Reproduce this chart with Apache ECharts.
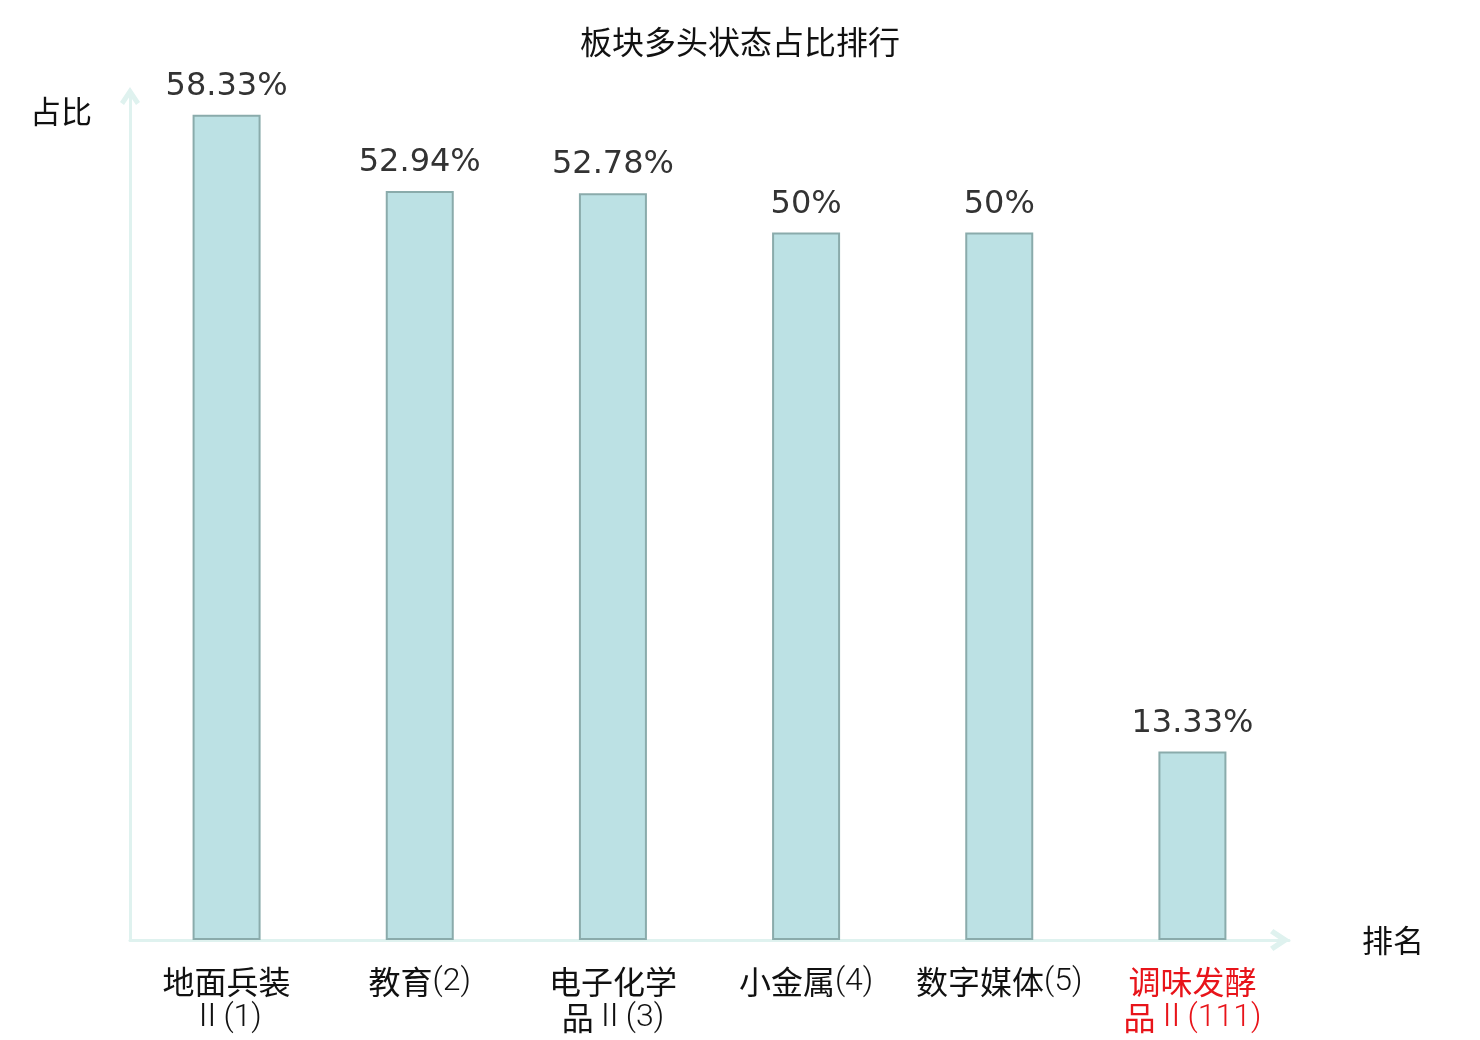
<!DOCTYPE html>
<html>
<head>
<meta charset="utf-8">
<script src="https://cdn.jsdelivr.net/npm/echarts@6/dist/echarts.min.js"></script>
<style>html,body{margin:0;padding:0;background:#fff}#c{width:1480px;height:1040px}</style>
</head>
<body>
<div id="c"></div>
<script>
const titleText = '板块多头状态占比排行';
const categories = ['地面兵装Ⅱ(1)', '教育(2)', '电子化学品Ⅱ(3)', '小金属(4)', '数字媒体(5)', '调味发酵品Ⅱ(111)'];
const values = [58.33, 52.94, 52.78, 50, 50, 13.33];
const valueLabels = ['58.33%', '52.94%', '52.78%', '50%', '50%', '13.33%'];
const highlightIndex = 5;

const chevron = 'path://M10 0L20 15L16 18L10 9L4 18L0 15Z';
const axisColor = '#dff2ef';
const cjk = '"Noto Sans CJK SC", sans-serif';
const latin = 'Roboto, "Noto Sans CJK SC", sans-serif';
const normalColor = '#111';
const redColor = '#e8141a';

function isCJK(ch) { return /[\u3400-\u9fff]/.test(ch); }
function richLabel(v, i) {
  const lines = v.length > 7 ? [v.slice(0, 4), v.slice(4)] : [v];
  const suffix = i === highlightIndex ? 'r' : '';
  return lines.map(function (line) {
    let out = '', run = '', kind = null;
    for (const ch of line) {
      const k = isCJK(ch) ? 'c' : 'l';
      if (k !== kind && run) { out += '{' + kind + suffix + '|' + run + '}'; run = ''; }
      kind = k; run += ch;
    }
    if (run) out += '{' + kind + suffix + '|' + run + '}';
    return out;
  }).join('\n');
}

const chart = echarts.init(document.getElementById('c'));
chart.setOption({
  backgroundColor: '#fff',
  animation: false,
  title: {
    text: titleText,
    left: 'center',
    top: 21,
    textStyle: { fontFamily: cjk, fontSize: 32, fontWeight: 'normal', color: '#111' }
  },
  grid: { left: 130, right: 191, top: 91, bottom: 100, containLabel: false },
  xAxis: {
    type: 'category',
    data: categories,
    name: '排名',
    nameLocation: 'end',
    nameGap: 73,
    nameTextStyle: { fontFamily: cjk, fontSize: 31, color: '#111' },
    axisLine: {
      show: true,
      symbol: ['none', chevron],
      symbolSize: [23, 20],
      symbolOffset: [0, -9],
      lineStyle: { color: axisColor, width: 3 }
    },
    axisTick: { show: false },
    axisLabel: {
      interval: 0,
      margin: 24,
      fontSize: 32,
      lineHeight: 36,
      formatter: richLabel,
      rich: {
        c: { fontFamily: cjk, fontSize: 32, lineHeight: 36, fontWeight: 400, color: normalColor },
        l: { fontFamily: latin, fontSize: 32, lineHeight: 36, fontWeight: 300, color: normalColor },
        cr: { fontFamily: cjk, fontSize: 32, lineHeight: 36, fontWeight: 400, color: redColor },
        lr: { fontFamily: latin, fontSize: 32, lineHeight: 36, fontWeight: 300, color: redColor }
      }
    }
  },
  yAxis: {
    type: 'value',
    min: 0,
    max: 60,
    name: '占比',
    nameLocation: 'end',
    nameGap: -20,
    nameTextStyle: { fontFamily: cjk, fontSize: 31, color: '#111', align: 'right', verticalAlign: 'middle', padding: [0, 38, 0, 0] },
    axisLine: {
      show: true,
      symbol: ['none', chevron],
      symbolSize: [20, 19],
      symbolOffset: [0, -5],
      lineStyle: { color: axisColor, width: 3 }
    },
    axisTick: { show: false },
    axisLabel: { show: false },
    splitLine: { show: false }
  },
  series: [{
    type: 'bar',
    data: values,
    barWidth: 68,
    itemStyle: { color: '#bce1e4', borderColor: '#8aabab', borderWidth: 2 },
    label: {
      show: true,
      position: 'top',
      distance: 12,
      fontFamily: '"DejaVu Sans", sans-serif',
      fontSize: 32,
      color: '#333',
      formatter: function (p) { return valueLabels[p.dataIndex]; }
    }
  }]
});
</script>
</body>
</html>
